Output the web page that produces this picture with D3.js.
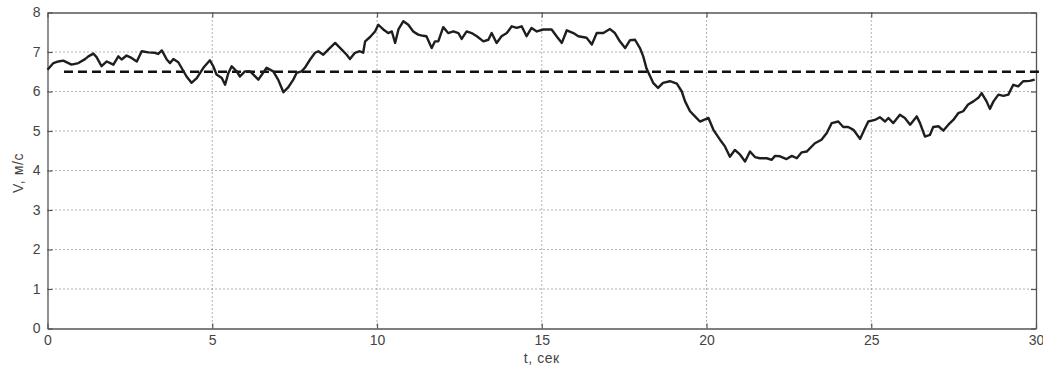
<!DOCTYPE html>
<html>
<head>
<meta charset="utf-8">
<script src="https://cdn.jsdelivr.net/npm/d3@7"></script>
<style>
  html, body { margin: 0; padding: 0; background: #fff; }
  svg text { font-family: "Liberation Sans", Arial, sans-serif; }
</style>
</head>
<body>
<svg id="chart" width="1043" height="367"></svg>
<script>
// Wind speed record: time (s) and velocity (m/s)
const timeSec = [
  0, 0.18, 0.33, 0.48, 0.73, 0.94, 1.14, 1.24, 1.39, 1.49, 1.64, 1.80, 2.0, 2.15, 2.25, 2.40, 2.55, 2.71, 2.86, 3.06,
  3.26, 3.36, 3.47, 3.62, 3.72, 3.82, 3.97, 4.22, 4.37, 4.53, 4.73, 4.93, 5.03, 5.13, 5.29, 5.39, 5.49, 5.59, 5.74, 5.84,
  5.99, 6.15, 6.40, 6.65, 6.85, 7.0, 7.16, 7.31, 7.46, 7.56, 7.71, 7.81, 7.97, 8.12, 8.22, 8.37, 8.52, 8.73, 8.93, 9.08,
  9.18, 9.33, 9.48, 9.58, 9.64, 9.79, 9.94, 10.04, 10.19, 10.34, 10.45, 10.55, 10.65, 10.80, 10.95, 11.10, 11.25, 11.40, 11.50, 11.66,
  11.76, 11.86, 12.01, 12.16, 12.32, 12.47, 12.57, 12.72, 12.87, 13.03, 13.23, 13.38, 13.48, 13.63, 13.78, 13.94, 14.09, 14.24, 14.39, 14.54,
  14.69, 14.85, 15.05, 15.15, 15.30, 15.45, 15.61, 15.76, 15.96, 16.11, 16.36, 16.52, 16.67, 16.87, 17.07, 17.22, 17.37, 17.53, 17.68, 17.83,
  17.98, 18.08, 18.18, 18.38, 18.53, 18.68, 18.89, 19.10, 19.25, 19.35, 19.50, 19.65, 19.80, 20.06, 20.21, 20.41, 20.56, 20.71, 20.86, 21.02,
  21.17, 21.32, 21.47, 21.62, 21.83, 21.98, 22.08, 22.23, 22.43, 22.59, 22.74, 22.89, 23.04, 23.29, 23.49, 23.65, 23.80, 24.00, 24.15, 24.30,
  24.46, 24.66, 24.81, 24.91, 25.11, 25.26, 25.42, 25.52, 25.67, 25.87, 26.02, 26.18, 26.38, 26.48, 26.63, 26.78, 26.88, 27.04, 27.19, 27.34,
  27.49, 27.64, 27.79, 27.94, 28.10, 28.25, 28.35, 28.50, 28.60, 28.71, 28.86, 29.01, 29.16, 29.31, 29.46, 29.61, 29.81, 29.96
];
const speed = [
  6.55, 6.72, 6.76, 6.78, 6.68, 6.72, 6.82, 6.89, 6.96, 6.87, 6.64, 6.76, 6.68, 6.89, 6.81, 6.91, 6.85, 6.76, 7.02, 6.99,
  6.98, 6.95, 7.04, 6.81, 6.72, 6.82, 6.74, 6.38, 6.22, 6.34, 6.60, 6.79, 6.64, 6.43, 6.34, 6.17, 6.47, 6.64, 6.51, 6.38,
  6.51, 6.51, 6.30, 6.60, 6.51, 6.30, 5.98, 6.11, 6.30, 6.47, 6.51, 6.60, 6.81, 6.98, 7.02, 6.93, 7.06, 7.23, 7.06, 6.93,
  6.82, 6.98, 7.02, 6.98, 7.27, 7.38, 7.52, 7.69, 7.57, 7.48, 7.52, 7.23, 7.57, 7.78, 7.69, 7.52, 7.44, 7.41, 7.40, 7.10,
  7.27, 7.27, 7.63, 7.48, 7.52, 7.48, 7.33, 7.52, 7.48, 7.40, 7.27, 7.31, 7.48, 7.23, 7.40, 7.48, 7.65, 7.61, 7.65, 7.40,
  7.61, 7.52, 7.57, 7.57, 7.57, 7.40, 7.23, 7.55, 7.48, 7.40, 7.36, 7.19, 7.48, 7.48, 7.58, 7.48, 7.27, 7.10, 7.30, 7.31,
  7.10, 6.89, 6.58, 6.22, 6.09, 6.22, 6.26, 6.20, 6.00, 5.75, 5.50, 5.37, 5.24, 5.33, 5.03, 4.78, 4.61, 4.35, 4.52, 4.40,
  4.23, 4.48, 4.34, 4.31, 4.31, 4.27, 4.37, 4.36, 4.29, 4.37, 4.31, 4.46, 4.48, 4.69, 4.78, 4.95, 5.20, 5.24, 5.10, 5.10,
  5.03, 4.80, 5.07, 5.24, 5.28, 5.35, 5.24, 5.33, 5.20, 5.41, 5.33, 5.16, 5.37, 5.20, 4.86, 4.90, 5.10, 5.12, 5.01, 5.16,
  5.28, 5.45, 5.50, 5.67, 5.75, 5.84, 5.96, 5.75, 5.56, 5.75, 5.92, 5.89, 5.92, 6.17, 6.13, 6.26, 6.27, 6.30
];
// Reference level (m/s) and the time span over which it is drawn
const refLevel = 6.5;
const refSpan = [0.5, 30.2];

const xTicks = [0, 5, 10, 15, 20, 25, 30];
const yTicks = [0, 1, 2, 3, 4, 5, 6, 7, 8];
const xLabel = "t, сек";
const yLabel = "V, м/с";

const svg = d3.select("#chart");
const plotLeft = 47.5, plotRight = 1036, plotTop = 12.5, plotBottom = 328.5;

const x = d3.scaleLinear().domain([0, 30]).range([plotLeft, plotRight]);
const y = d3.scaleLinear().domain([0, 8]).range([plotBottom, plotTop]);

const axisColor = "#555";
const gridColor = "#666";
const textColor = "#444";

// Grid (dotted)
const grid = svg.append("g");
grid.selectAll("line.gx").data(xTicks.slice(1, -1)).join("line")
  .attr("x1", d => x(d)).attr("x2", d => x(d))
  .attr("y1", plotTop).attr("y2", plotBottom)
  .attr("stroke", gridColor).attr("stroke-width", 1)
  .attr("stroke-dasharray", "1,3");
grid.selectAll("line.gy").data(yTicks.slice(1, -1)).join("line")
  .attr("x1", plotLeft).attr("x2", plotRight)
  .attr("y1", d => y(d)).attr("y2", d => y(d))
  .attr("stroke", gridColor).attr("stroke-width", 1)
  .attr("stroke-dasharray", "1,3");

// Axes with inward ticks on all four sides
function styleAxis(g) {
  g.selectAll(".domain").attr("stroke", axisColor).attr("stroke-width", 1.3);
  g.selectAll(".tick line").attr("stroke", axisColor).attr("stroke-width", 1.2);
  g.selectAll(".tick text").attr("fill", textColor).style("font-size", "14px");
}
svg.append("g").attr("transform", `translate(0,${plotBottom})`)
  .call(d3.axisBottom(x).tickValues(xTicks).tickSizeInner(-5).tickSizeOuter(0).tickPadding(7))
  .call(styleAxis);
svg.append("g").attr("transform", `translate(0,${plotTop})`)
  .call(d3.axisTop(x).tickValues(xTicks).tickSizeInner(-5).tickSizeOuter(0).tickFormat(""))
  .call(styleAxis);
svg.append("g").attr("transform", `translate(${plotLeft},0)`)
  .call(d3.axisLeft(y).tickValues(yTicks).tickSizeInner(-5).tickSizeOuter(0).tickPadding(7))
  .call(styleAxis);
svg.append("g").attr("transform", `translate(${plotRight},0)`)
  .call(d3.axisRight(y).tickValues(yTicks).tickSizeInner(-5).tickSizeOuter(0).tickFormat(""))
  .call(styleAxis);

// Reference level, dashed
svg.append("line")
  .attr("x1", x(refSpan[0])).attr("x2", x(refSpan[1]))
  .attr("y1", y(refLevel)).attr("y2", y(refLevel))
  .attr("stroke", "#111").attr("stroke-width", 2.6)
  .attr("stroke-dasharray", "9,5");

// Velocity trace
const pts = timeSec.map((t, i) => [t, speed[i]]);
svg.append("path")
  .datum(pts)
  .attr("fill", "none")
  .attr("stroke", "#1e1e1e")
  .attr("stroke-width", 2.4)
  .attr("stroke-linejoin", "round")
  .attr("d", d3.line().x(d => x(d[0])).y(d => y(d[1])));

// Axis titles
svg.append("text")
  .attr("x", (plotLeft + plotRight) / 2).attr("y", 362.5)
  .attr("text-anchor", "middle")
  .attr("fill", textColor).style("font-size", "14px")
  .style("letter-spacing", "0.6px")
  .text(xLabel);
svg.append("text")
  .attr("transform", `translate(23,173) rotate(-90)`)
  .attr("text-anchor", "middle")
  .attr("fill", textColor).style("font-size", "14px")
  .style("letter-spacing", "0.6px")
  .text(yLabel);
</script>
</body>
</html>
